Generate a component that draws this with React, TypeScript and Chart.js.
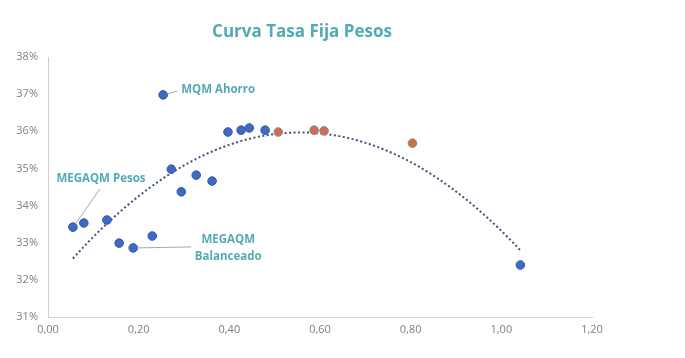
import React, { useEffect, useRef } from "react";
import { Chart, registerables } from "chart.js";

Chart.register(...registerables);

const TITLE = "Curva Tasa Fija Pesos";
const X_TICKS = [0, 0.2, 0.4, 0.6, 0.8, 1.0, 1.2];
const Y_TICKS = [0.31, 0.32, 0.33, 0.34, 0.35, 0.36, 0.37, 0.38];

// Blue funds (duration, rate)
const blueX = [0.055, 0.079, 0.130, 0.157, 0.188, 0.230, 0.254, 0.272, 0.294, 0.327, 0.362, 0.397, 0.426, 0.444, 0.479, 1.042];
const blueY = [0.3342, 0.3353, 0.3361, 0.3299, 0.3286, 0.3318, 0.3698, 0.3498, 0.3437, 0.3482, 0.3466, 0.3598, 0.3603, 0.3609, 0.3603, 0.3240];
// Orange funds
const orangeX = [0.508, 0.587, 0.609, 0.804];
const orangeY = [0.3598, 0.3603, 0.3601, 0.3568];

// Labeled points (index into blue series)
const LABELS = [
  { idx: 6, text: ["MQM Ahorro"] },
  { idx: 0, text: ["MEGAQM Pesos"] },
  { idx: 4, text: ["MEGAQM", "Balanceado"] },
];

const TEAL = "#52abb2";

function quadFit(xs: number[], ys: number[]) {
  // least squares y = a + b x + c x^2 (as Excel polynomial trendline)
  let s0 = 0, s1 = 0, s2 = 0, s3 = 0, s4 = 0, t0 = 0, t1 = 0, t2 = 0;
  for (let i = 0; i < xs.length; i++) {
    const x = xs[i], y = ys[i];
    s0 += 1; s1 += x; s2 += x * x; s3 += x * x * x; s4 += x * x * x * x;
    t0 += y; t1 += x * y; t2 += x * x * y;
  }
  const M = [
    [s0, s1, s2, t0],
    [s1, s2, s3, t1],
    [s2, s3, s4, t2],
  ];
  for (let i = 0; i < 3; i++) {
    for (let k = i + 1; k < 3; k++) {
      const f = M[k][i] / M[i][i];
      for (let j = i; j < 4; j++) M[k][j] -= f * M[i][j];
    }
  }
  const c = M[2][3] / M[2][2];
  const b = (M[1][3] - M[1][2] * c) / M[1][1];
  const a = (M[0][3] - M[0][1] * b - M[0][2] * c) / M[0][0];
  return (x: number) => a + b * x + c * x * x;
}

export default function App() {
  const ref = useRef<HTMLCanvasElement | null>(null);
  useEffect(() => {
    document.body.style.margin = "0";
    const allX = [...blueX, ...orangeX];
    const allY = [...blueY, ...orangeY];
    const f = quadFit(allX, allY);
    const minX = Math.min(...allX), maxX = Math.max(...allX);
    const trend: { x: number; y: number }[] = [];
    const N = 80;
    for (let i = 0; i <= N; i++) {
      const x = minX + ((maxX - minX) * i) / N;
      trend.push({ x, y: f(x) });
    }

    const overlay = {
      id: "overlay",
      afterDraw(chart: any) {
        const ctx = chart.ctx;
        const xs = chart.scales.x, ys = chart.scales.y;
        ctx.save();
        ctx.fillStyle = TEAL;
        ctx.font = "bold 17px 'Open Sans', sans-serif";
        ctx.textAlign = "center";
        ctx.textBaseline = "middle";
        ctx.fillText(TITLE, 302, 32);

        ctx.font = "bold 11.5px 'Open Sans', sans-serif";
        ctx.strokeStyle = "#a6a6a6";
        ctx.lineWidth = 1;
        LABELS.forEach((l) => {
          const px = xs.getPixelForValue(blueX[l.idx]);
          const py = ys.getPixelForValue(blueY[l.idx]);
          ctx.beginPath();
          if (l.idx === 6) {
            ctx.moveTo(px + 5, py - 1);
            ctx.lineTo(px + 14, py - 4);
            ctx.stroke();
            ctx.textAlign = "left";
            ctx.fillText(l.text[0], px + 18, py - 5);
          } else if (l.idx === 0) {
            ctx.moveTo(px + 3, py - 4);
            ctx.lineTo(px + 27, py - 38);
            ctx.stroke();
            ctx.textAlign = "center";
            ctx.fillText(l.text[0], px + 28, py - 48);
          } else {
            ctx.moveTo(px + 4, py);
            ctx.lineTo(px + 58, py - 1);
            ctx.stroke();
            ctx.textAlign = "center";
            ctx.fillText(l.text[0], px + 95, py - 8);
            ctx.fillText(l.text[1], px + 95, py + 9);
          }
        });
        ctx.restore();
      },
    };

    const chart = new Chart(ref.current as HTMLCanvasElement, {
      type: "scatter",
      data: {
        datasets: [
          {
            type: "line",
            label: "Tendencia",
            data: trend,
            borderColor: "#3f5279",
            borderWidth: 2,
            borderDash: [2, 2.5],
            pointRadius: 0,
            fill: false,
            order: 3,
          } as any,
          {
            label: "Fondos",
            data: blueX.map((x, i) => ({ x, y: blueY[i] })),
            backgroundColor: "#4069c4",
            borderColor: "#3558a8",
            borderWidth: 1,
            pointRadius: 4.3,
            order: 1,
          },
          {
            label: "Otros",
            data: orangeX.map((x, i) => ({ x, y: orangeY[i] })),
            backgroundColor: "#d06d4c",
            borderColor: "#8a8a8a",
            borderWidth: 1,
            pointRadius: 4.3,
            order: 1,
          },
        ],
      },
      options: {
        animation: false,
        responsive: false,
        layout: { padding: { top: 57, right: 93, left: 0, bottom: 0 } },
        plugins: { legend: { display: false }, tooltip: { enabled: false }, title: { display: false } },
        scales: {
          x: {
            type: "linear",
            min: 0,
            max: 1.2,
            afterBuildTicks: (s: any) => { s.ticks = X_TICKS.map((v) => ({ value: v })); },
            afterFit: (s: any) => { s.height = 358 - 317; },
            grid: { display: false, drawTicks: false },
            border: { color: "#d0d0d0", width: 1 },
            ticks: {
              color: "#7f7f7f",
              font: { family: "'Open Sans', sans-serif", size: 11 },
              padding: 6,
              callback: (v: any) => Number(v).toFixed(2).replace(".", ","),
            },
          },
          y: {
            type: "linear",
            min: 0.31,
            max: 0.38,
            afterBuildTicks: (s: any) => { s.ticks = Y_TICKS.map((v) => ({ value: v })); },
            afterFit: (s: any) => { s.width = 48; },
            grid: { display: false, drawTicks: false },
            border: { color: "#d0d0d0", width: 1 },
            ticks: {
              color: "#7f7f7f",
              font: { family: "'Open Sans', sans-serif", size: 11 },
              padding: 10,
              callback: (v: any) => Math.round(Number(v) * 100) + "%",
            },
          },
        },
      },
      plugins: [overlay],
    } as any);
    return () => chart.destroy();
  }, []);
  return <canvas ref={ref} width={685} height={358} style={{ display: "block" }} />;
}
